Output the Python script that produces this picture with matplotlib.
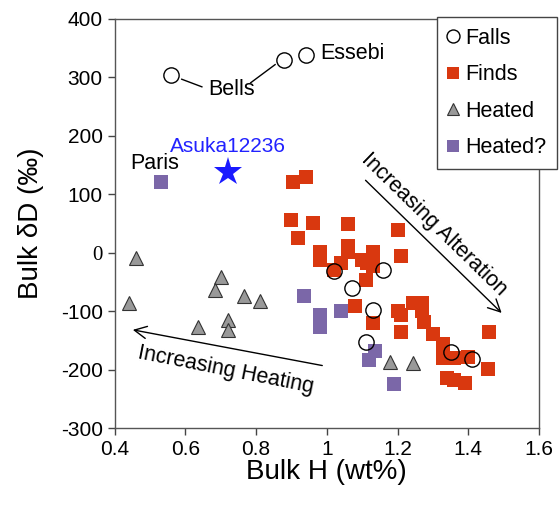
import numpy as np
import matplotlib
matplotlib.use("Agg")
import matplotlib.pyplot as plt

plt.rcParams['font.family'] = ['Liberation Sans', 'DejaVu Sans']

# Falls (open circles)
falls_h = [0.56, 0.88, 0.94, 1.02, 1.16, 1.07, 1.13, 1.11, 1.35, 1.41]
falls_d = [305, 330, 338, -31, -30, -60, -97, -152, -170, -182]

# Finds (red squares)
finds_h = [0.905, 0.94, 0.90, 0.96, 1.06, 0.92, 1.20, 0.98, 0.98, 1.06, 1.06,
           1.13, 1.21, 1.04, 1.10, 1.113, 1.13, 1.02, 1.11, 1.08, 1.13, 1.21,
           1.20, 1.21, 1.245, 1.27, 1.268, 1.275, 1.30, 1.33, 1.33, 1.33,
           1.36, 1.40, 1.46, 1.455, 1.34, 1.36, 1.39]
finds_d = [122, 129, 56, 51, 49, 26, 39, 2, -12, 12, 2,
           2, -5, -18, -12, -18, -22, -29, -46, -90, -120, -135,
           -100, -106, -86, -86, -100, -119, -138, -155, -169, -180,
           -180, -178, -135, -199, -214, -218, -222]

# Heated (grey triangles)
heated_h = [0.46, 0.44, 0.70, 0.685, 0.765, 0.81, 0.72, 0.72, 0.635, 1.18, 1.245]
heated_d = [-9, -86, -42, -63, -73, -83, -114, -132, -126, -186, -189]

# Heated? (purple squares)
heatedq_h = [0.53, 0.935, 0.98, 0.98, 1.04, 1.135, 1.12, 1.19]
heatedq_d = [121, -73, -106, -126, -100, -168, -183, -224]

# Asuka 12236
asuka_h = [0.72]
asuka_d = [139]

red = '#d9380f'
purple = '#7b67a8'
grey = '#999999'

fig = plt.figure(figsize=(5.6, 5.19), dpi=100)
ax = fig.add_axes([0.2045, 0.1747, 0.758, 0.7887])

ax.plot(finds_h, finds_d, 's', color=red, markersize=9.5, markeredgewidth=0,
        linestyle='none', label='Finds', zorder=3)
ax.plot(falls_h, falls_d, 'o', markerfacecolor='none', markeredgecolor='black',
        markersize=11, markeredgewidth=1.0, linestyle='none', label='Falls', zorder=4)
ax.plot(heated_h, heated_d, '^', color=grey, markeredgecolor='#333333',
        markersize=10, markeredgewidth=0.8, linestyle='none', label='Heated', zorder=3)
ax.plot(heatedq_h, heatedq_d, 's', color=purple, markersize=9.5, markeredgewidth=0,
        linestyle='none', label='Heated?', zorder=3)
ax.plot(asuka_h, asuka_d, '*', color='#1a1aff', markersize=21, markeredgewidth=0,
        linestyle='none', zorder=5)

# labels for named meteorites
ax.text(0.72, 165, 'Asuka12236', color='#2222ff', fontsize=15, ha='center', va='bottom')
ax.text(0.514, 153, 'Paris', fontsize=15.5, ha='center', va='center')
ax.text(0.731, 280, 'Bells', fontsize=15.5, ha='center', va='center')
ax.text(0.981, 341, 'Essebi', fontsize=15.5, ha='left', va='center')
ax.plot([0.59, 0.647], [297, 284], color='black', lw=1)
ax.plot([0.785, 0.854], [291, 322], color='black', lw=1)

# trend arrows
ax.annotate('', xy=(1.50, -106), xytext=(1.104, 127.5),
            arrowprops=dict(arrowstyle='->', lw=1, color='black', mutation_scale=22))
ax.text(1.303, 49, 'Increasing Alteration', fontsize=15.5, rotation=-44.3,
        ha='center', va='center', rotation_mode='anchor')
ax.annotate('', xy=(0.444, -130.7), xytext=(0.995, -193.5),
            arrowprops=dict(arrowstyle='->', lw=1, color='black', mutation_scale=22))
ax.text(0.714, -200, 'Increasing Heating', fontsize=15.5, rotation=-11.2,
        ha='center', va='center', rotation_mode='anchor')

ax.set_xlim(0.4, 1.6)
ax.set_ylim(-300, 400)
ax.set_xticks([0.4, 0.6, 0.8, 1.0, 1.2, 1.4, 1.6])
ax.set_xticklabels(['0.4', '0.6', '0.8', '1', '1.2', '1.4', '1.6'])
ax.set_yticks([-300, -200, -100, 0, 100, 200, 300, 400])
ax.set_yticklabels(['-300', '-200', '-100', '0', '100', '200', '300', '400'])
for lab in ax.get_yticklabels():
    if lab.get_text() == '0':
        lab.set_family('Liberation Serif')
ax.tick_params(direction='out', length=5, width=1, labelsize=15, color='#444444')
for sp in ax.spines.values():
    sp.set_color('#555555')
    sp.set_linewidth(1)

ax.set_xlabel('Bulk H (wt%)', fontsize=20, labelpad=0)
ax.set_ylabel('Bulk δD (‰)', fontsize=20, labelpad=12)

handles, labels = ax.get_legend_handles_labels()
order = [labels.index(n) for n in ['Falls', 'Finds', 'Heated', 'Heated?']]
leg = fig.legend([handles[i] for i in order], [labels[i] for i in order],
                 loc='upper left', bbox_to_anchor=(437 / 560, 1 - 17 / 519),
                 fontsize=15.5, frameon=True, fancybox=False, framealpha=1,
                 edgecolor='#444444', handlelength=0.5, handletextpad=0.3,
                 labelspacing=0.72, borderpad=0.5, borderaxespad=0, markerscale=0.85)
leg.get_frame().set_linewidth(1)

fig.savefig('out.png', dpi=100)
